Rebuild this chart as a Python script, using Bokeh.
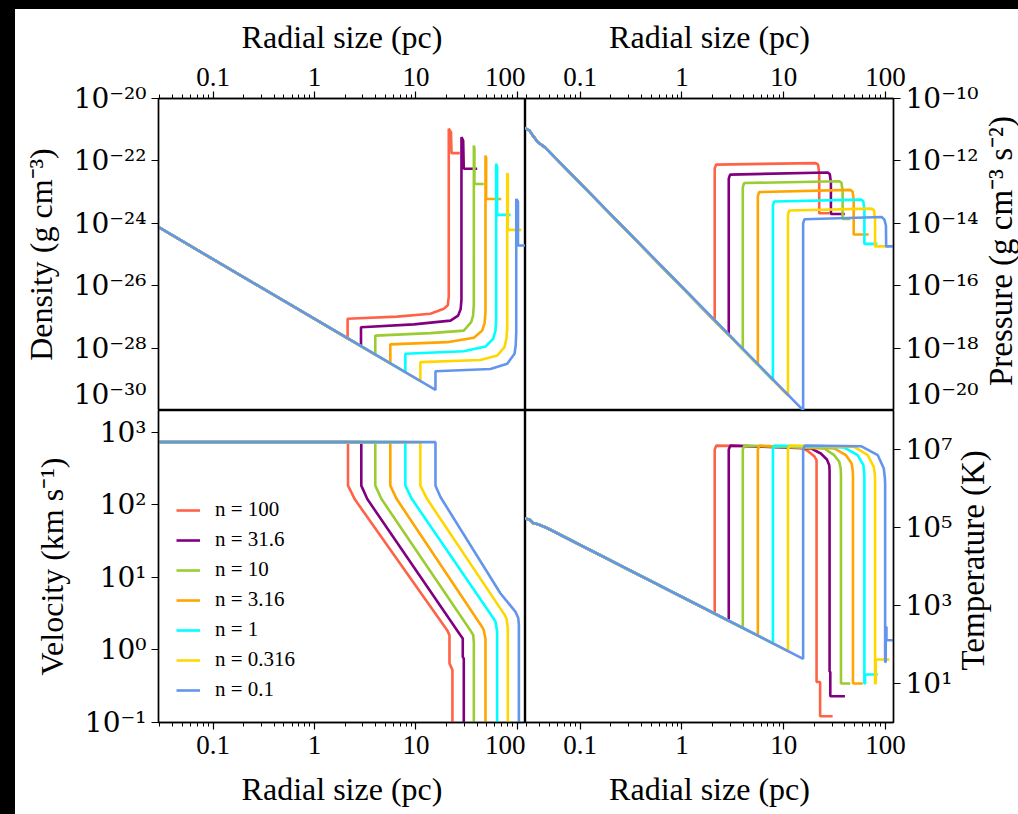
import math
from bokeh.plotting import figure
from bokeh.models import Range1d, FixedTicker, Div
from bokeh.core.properties import value
from bokeh.layouts import row, column
from bokeh.embed import file_html
from bokeh.resources import INLINE

# ---------------------------------------------------------------------------
# Wind-blown bubble profiles for seven ambient densities n (cm^-3)
# ---------------------------------------------------------------------------
n_values = ["100", "31.6", "10", "3.16", "1", "0.316", "0.1"]
series_labels = ["n = " + v for v in n_values]
series_colors = ["tomato", "purple", "yellowgreen", "orange", "cyan", "gold", "cornflowerblue"]

# axis ticks and their labels
r_ticks = [0.1, 1.0, 10.0, 100.0]
r_tick_labels = ["0.1", "1", "10", "100"]
dens_ticks = [1e-30, 1e-28, 1e-26, 1e-24, 1e-22, 1e-20]
dens_tick_labels = ["10⁻³⁰", "10⁻²⁸", "10⁻²⁶", "10⁻²⁴", "10⁻²²", "10⁻²⁰"]
pres_ticks = [1e-20, 1e-18, 1e-16, 1e-14, 1e-12, 1e-10]
pres_tick_labels = ["10⁻²⁰", "10⁻¹⁸", "10⁻¹⁶", "10⁻¹⁴", "10⁻¹²", "10⁻¹⁰"]
vel_ticks = [0.1, 1.0, 10.0, 100.0, 1000.0]
vel_tick_labels = ["10⁻¹", "10⁰", "10¹", "10²", "10³"]
temp_ticks = [10.0, 1e3, 1e5, 1e7]
temp_tick_labels = ["10¹", "10³", "10⁵", "10⁷"]

# --- density: log10 r (pc), log10 rho (g cm^-3) ---
dens_logr = [
    [-1.55, 0.326, 0.326, 0.813, 1.142, 1.274, 1.313, 1.323, 1.323, 1.345, 1.350, 1.432],
    [-1.55, 0.458, 0.458, 0.978, 1.340, 1.415, 1.440, 1.448, 1.448, 1.465, 1.471, 1.603],
    [-1.55, 0.599, 0.599, 1.142, 1.471, 1.544, 1.563, 1.570, 1.570, 1.576, 1.576, 1.668],
    [-1.55, 0.747, 0.747, 1.307, 1.570, 1.652, 1.676, 1.685, 1.685, 1.691, 1.691, 1.840],
    [-1.55, 0.895, 0.895, 1.471, 1.685, 1.761, 1.783, 1.790, 1.790, 1.800, 1.800, 1.932],
    [-1.55, 1.043, 1.043, 1.636, 1.800, 1.872, 1.891, 1.899, 1.899, 1.905, 1.905, 2.037],
    [-1.55, 1.192, 1.192, 1.734, 1.899, 1.971, 1.983, 1.988, 1.988, 2.005, 2.005, 2.080],
]
dens_logv = [
    [-24.10, -27.69, -27.06, -26.99, -26.90, -26.74, -26.63, -26.35, -20.97, -21.08, -21.75, -21.75],
    [-24.10, -27.94, -27.33, -27.24, -27.12, -26.96, -26.75, -26.45, -21.24, -21.35, -22.25, -22.25],
    [-24.10, -28.21, -27.60, -27.52, -27.44, -27.17, -26.95, -26.60, -21.51, -21.60, -22.74, -22.74],
    [-24.10, -28.49, -27.88, -27.81, -27.67, -27.44, -27.20, -26.85, -21.83, -21.90, -23.22, -23.22],
    [-24.10, -28.77, -28.18, -28.10, -27.95, -27.70, -27.45, -27.10, -22.09, -22.20, -23.73, -23.73],
    [-24.10, -29.06, -28.45, -28.38, -28.24, -27.97, -27.70, -27.35, -22.39, -22.45, -24.21, -24.21],
    [-24.10, -29.34, -28.74, -28.67, -28.50, -28.18, -27.90, -27.50, -23.22, -23.30, -24.71, -24.71],
]

# --- pressure: log10 r (pc), log10 P ---
pres_wind_logr = [-1.547, -1.498, -1.465, -1.416, -1.349, -1.300]
pres_wind_logv = [-10.94, -11.03, -11.19, -11.40, -11.56, -11.72]
pres_logr = [
    [0.322, 0.322, 0.335, 1.315, 1.338, 1.349, 1.349, 1.450],
    [0.460, 0.460, 0.473, 1.430, 1.453, 1.464, 1.464, 1.600],
    [0.598, 0.598, 0.611, 1.545, 1.568, 1.579, 1.579, 1.655],
    [0.746, 0.746, 0.759, 1.654, 1.677, 1.688, 1.688, 1.835],
    [0.894, 0.894, 0.907, 1.759, 1.782, 1.793, 1.793, 1.920],
    [1.042, 1.042, 1.055, 1.864, 1.887, 1.898, 1.898, 2.020],
    [1.191, 1.191, 1.204, 1.965, 1.990, 2.005, 2.007, 2.085],
]
pres_logv = [
    [-17.12, -12.25, -12.12, -12.07, -12.12, -12.40, -13.68, -13.68],
    [-17.58, -12.57, -12.44, -12.37, -12.42, -12.70, -13.70, -13.70],
    [-18.04, -12.84, -12.71, -12.65, -12.70, -12.98, -13.86, -13.86],
    [-18.53, -13.13, -13.00, -12.93, -12.98, -13.26, -14.36, -14.36],
    [-19.03, -13.43, -13.30, -13.24, -13.29, -13.57, -14.66, -14.66],
    [-19.52, -13.72, -13.59, -13.53, -13.58, -13.86, -14.74, -14.74],
    [-19.99, -14.00, -13.87, -13.80, -13.88, -14.07, -14.74, -14.74],
]

# --- velocity: log10 r (pc), log10 v (km s^-1) ---
vel_logr = [
    [-1.55, 0.330, 0.330, 0.400, 1.307, 1.330, 1.330, 1.359, 1.359],
    [-1.55, 0.461, 0.461, 0.520, 1.438, 1.461, 1.461, 1.471, 1.471],
    [-1.55, 0.599, 0.599, 0.660, 1.545, 1.564, 1.570, 1.570],
    [-1.55, 0.747, 0.747, 0.810, 1.650, 1.668, 1.685, 1.685],
    [-1.55, 0.895, 0.895, 0.960, 1.766, 1.784, 1.800, 1.800],
    [-1.55, 1.043, 1.043, 1.110, 1.875, 1.892, 1.905, 1.905],
    [-1.55, 1.192, 1.192, 1.241, 1.833, 1.981, 2.008, 2.014, 2.014],
]
vel_logv = [
    [2.865, 2.865, 2.265, 2.070, 0.273, 0.204, -0.185, -0.277, -1.2],
    [2.865, 2.865, 2.265, 2.080, 0.204, 0.159, -0.094, -0.120, -1.2],
    [2.865, 2.865, 2.265, 2.080, 0.250, 0.204, 0.100, -1.2],
    [2.865, 2.865, 2.265, 2.080, 0.320, 0.273, 0.150, -1.2],
    [2.865, 2.865, 2.265, 2.080, 0.430, 0.387, 0.250, -1.2],
    [2.865, 2.865, 2.265, 2.080, 0.480, 0.434, 0.300, -1.2],
    [2.865, 2.865, 2.265, 2.108, 0.778, 0.525, 0.440, 0.350, -1.2],
]

# --- temperature: log10 r (pc), log10 T (K) ---
temp_wind_logr = [-1.547, -1.497, -1.465, -1.416, -1.366, -1.317]
temp_wind_logv = [5.23, 5.205, 5.118, 5.085, 5.033, 4.974]
temp_logr = [
    [0.322, 0.322, 0.338, 1.168, 1.234, 1.300, 1.323, 1.323, 1.358, 1.358, 1.481],
    [0.460, 0.460, 0.476, 1.267, 1.365, 1.425, 1.448, 1.451, 1.451, 1.458, 1.458, 1.602],
    [0.598, 0.598, 0.614, 1.398, 1.497, 1.546, 1.560, 1.563, 1.563, 1.654],
    [0.746, 0.746, 0.762, 1.497, 1.612, 1.668, 1.679, 1.681, 1.681, 1.777],
    [0.894, 0.894, 0.910, 1.596, 1.727, 1.783, 1.791, 1.793, 1.793, 1.800, 1.800, 1.925],
    [1.042, 1.042, 1.058, 1.694, 1.826, 1.885, 1.896, 1.898, 1.898, 1.905, 1.905, 2.039],
    [1.191, 1.191, 1.207, 1.760, 1.925, 1.984, 1.995, 1.997, 1.997, 2.003, 2.003, 2.010, 2.010, 2.089],
]
temp_logv = [
    [2.790, 7.00, 7.10, 7.07, 6.966, 6.829, 6.727, 1.04, 1.04, 0.16, 0.16],
    [2.607, 7.00, 7.10, 7.03, 6.897, 6.744, 6.598, 6.45, 1.30, 1.30, 0.674, 0.674],
    [2.423, 7.00, 7.10, 7.026, 6.854, 6.684, 6.513, 6.35, 1.00, 1.00],
    [2.226, 7.00, 7.10, 7.026, 6.854, 6.641, 6.45, 6.30, 1.00, 1.00],
    [2.029, 7.00, 7.10, 7.051, 6.854, 6.598, 6.40, 6.25, 1.00, 1.00, 1.231, 1.231],
    [1.831, 7.00, 7.10, 7.068, 6.854, 6.556, 6.35, 6.20, 1.00, 1.00, 1.615, 1.615],
    [1.633, 7.00, 7.10, 7.085, 6.854, 6.513, 6.25, 6.10, 1.554, 1.554, 2.45, 2.45, 2.11, 2.11],
]

# ---------------------------------------------------------------------------
SERIF = "Liberation Serif"
SERIF_SUP = "DejaVu Serif"      # has the full set of superscript digits
R_MIN, R_MAX = 0.029, 120.0
r_minor = [m * 10.0 ** k for k in (-2, -1, 0, 1) for m in range(2, 10)]
LINE_W = 2.6


def lin(vals):
    return [10.0 ** v for v in vals]


def panel(width, height, y_lo, y_hi, x_side, y_side, borders):
    left, right, top, bottom = borders
    p = figure(width=width, height=height,
               x_axis_type="log", y_axis_type="log",
               x_range=Range1d(R_MIN, R_MAX), y_range=Range1d(y_lo, y_hi),
               x_axis_location=x_side, y_axis_location=y_side,
               output_backend="svg", toolbar_location=None,
               min_border=0, min_border_left=left, min_border_right=right,
               min_border_top=top, min_border_bottom=bottom)
    p.grid.visible = False
    p.background_fill_color = "white"
    p.border_fill_color = "white"
    p.outline_line_color = "black"
    p.outline_line_width = 1.4
    for ax in p.axis:
        ax.axis_line_color = "black"
        ax.axis_line_width = 1.4
        ax.major_tick_line_color = "black"
        ax.major_tick_line_width = 1.2
        ax.minor_tick_line_color = "black"
        ax.minor_tick_line_width = 1.0
        ax.major_tick_in = 0
        ax.major_tick_out = 7
        ax.minor_tick_in = 0
        ax.minor_tick_out = 4
        ax.major_label_text_color = "black"
        ax.axis_label_text_font = SERIF
        ax.axis_label_text_font_style = "normal"
        ax.axis_label_text_font_size = "32px"
        ax.axis_label_text_color = "black"
    xa = p.xaxis[0]
    xa.ticker = FixedTicker(ticks=r_ticks, minor_ticks=r_minor)
    xa.major_label_overrides = dict(zip(r_ticks, r_tick_labels))
    xa.major_label_text_font = SERIF
    xa.major_label_text_font_size = "27px"
    xa.major_label_standoff = 6
    xa.axis_label = "Radial size (pc)"
    xa.axis_label_standoff = 10 if x_side == "above" else 14
    ya = p.yaxis[0]
    ya.major_label_text_font = SERIF_SUP
    ya.major_label_text_font_size = "28px"
    ya.major_label_standoff = 5
    ya.axis_label_standoff = 12
    return p


def set_y(p, ticks, labels):
    ya = p.yaxis[0]
    ya.ticker = FixedTicker(ticks=ticks, minor_ticks=[])
    ya.major_label_overrides = dict(zip(ticks, labels))


def title_strip(width, height, text, x, y, size):
    # narrow strip that carries a y-axis title reading bottom-to-top
    s = figure(width=width, height=height, x_range=Range1d(0, width), y_range=Range1d(0, height),
               x_axis_location=None, y_axis_location=None, output_backend="svg",
               toolbar_location=None, min_border=0)
    s.grid.visible = False
    s.outline_line_color = None
    s.border_fill_color = "white"
    s.background_fill_color = "white"
    s.text(x=[x], y=[y], text=[text], angle=math.pi / 2, text_align="center",
           text_baseline="middle", text_font=value(SERIF), text_font_size=value(size),
           text_color="black")
    return s


p_dens = panel(510, 401, 1e-30, 1e-20, "above", "left", (143, 0, 89, 0))
set_y(p_dens, dens_ticks, dens_tick_labels)
p_dens.yaxis[0].axis_label = "Density (g cm⁻³)"

p_pres = panel(368 + 88, 401, 1e-20, 1e-10, "above", "right", (0, 88, 89, 0))
set_y(p_pres, pres_ticks, pres_tick_labels)
s_pres = title_strip(125 - 88, 401, "Pressure (g cm⁻³ s⁻²)", 19, 205, "33px")

p_vel = panel(510, 404, 0.1, 2000.0, "below", "left", (143, 0, 0, 92))
set_y(p_vel, vel_ticks, vel_tick_labels)
p_vel.yaxis[0].axis_label = "Velocity (km s⁻¹)"

p_temp = panel(368 + 62, 404, 1.0, 1e8, "below", "right", (0, 62, 0, 92))
set_y(p_temp, temp_ticks, temp_tick_labels)
s_temp = title_strip(125 - 62, 404, "Temperature (K)", 17, 210, "33px")

for i in range(len(n_values)):
    c = series_colors[i]
    p_dens.line(lin(dens_logr[i]), lin(dens_logv[i]), line_color=c, line_width=LINE_W)
    p_pres.line(lin(pres_wind_logr + pres_logr[i]), lin(pres_wind_logv + pres_logv[i]),
                line_color=c, line_width=LINE_W)
    p_vel.line(lin(vel_logr[i]), lin(vel_logv[i]), line_color=c, line_width=LINE_W,
               legend_label=series_labels[i])
    p_temp.line(lin(temp_wind_logr + temp_logr[i]), lin(temp_wind_logv + temp_logv[i]),
                line_color=c, line_width=LINE_W)

leg = p_vel.legend[0]
leg.location = (18, 20)
leg.border_line_alpha = 0
leg.background_fill_alpha = 0
leg.padding = 0
leg.margin = 0
leg.spacing = 5
leg.glyph_width = 24
leg.glyph_height = 20
leg.label_height = 20
leg.label_standoff = 15
leg.label_text_font = SERIF
leg.label_text_font_size = "21px"
leg.label_text_color = "black"

top_strip = Div(text="", width=1018, height=9, margin=0, styles={"background-color": "black"})
left_strip = Div(text="", width=15, height=805, margin=0, styles={"background-color": "black"})

grid = column(row(p_dens, p_pres, s_pres), row(p_vel, p_temp, s_temp))
layout = column(top_strip, row(left_strip, grid))

open("out.html", "w").write(file_html(layout, INLINE))
